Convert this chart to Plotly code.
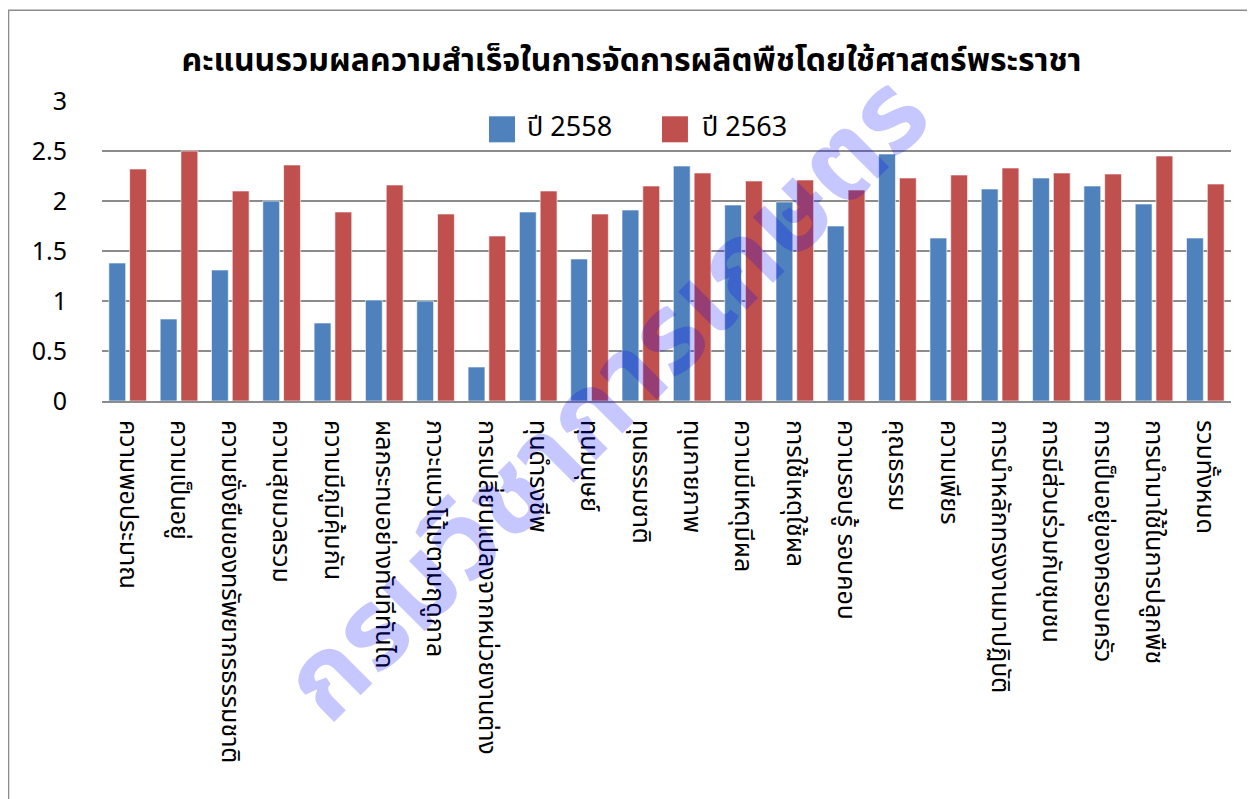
import plotly.graph_objects as go

categories = [
    "ความพอประมาณ",
    "ความเป็นอยู่",
    "ความยั่งยืนของทรัพยากรธรรมชาติ",
    "ความสุขมวลรวม",
    "ความมีภูมิคุ้มกัน",
    "ผลกระทบอย่างทันทีทันได",
    "ภาวะแนวโน้มตามฤดูกาล",
    "การเปลี่ยนแปลงจากหน่วยงานต่าง",
    "ทุนดำรงชีพ",
    "ทุนมนุษย์",
    "ทุนธรรมชาติ",
    "ทุนกายภาพ",
    "ความมีเหตุมีผล",
    "การใช้เหตุใช้ผล",
    "ความรอบรู้ รอบคอบ",
    "คุณธรรม",
    "ความเพียร",
    "การนำหลักทรงงานมาปฏิบัติ",
    "การมีส่วนร่วมกับชุมชน",
    "การเป็นอยู่ของครอบครัว",
    "การนำมาใช้ในการปลูกพืช",
    "รวมทั้งหมด",
]

values_2558 = [1.38, 0.82, 1.31, 2.00, 0.78, 1.01, 1.00, 0.34, 1.89, 1.42, 1.91,
               2.35, 1.96, 1.99, 1.75, 2.47, 1.63, 2.12, 2.23, 2.15, 1.97, 1.63]
values_2563 = [2.32, 2.50, 2.10, 2.36, 1.89, 2.16, 1.87, 1.65, 2.10, 1.87, 2.15,
               2.28, 2.20, 2.21, 2.11, 2.23, 2.26, 2.33, 2.28, 2.27, 2.45, 2.17]

series_names = ["ปี 2558", "ปี 2563"]
series_colors = ["#4F81BD", "#C0504D"]
y_ticks = [0, 0.5, 1, 1.5, 2, 2.5, 3]
y_tick_text = ["0", "0.5", "1", "1.5", "2", "2.5", "3"]

title_text = "คะแนนรวมผลความสำเร็จในการจัดการผลิตพืชโดยใช้ศาสตร์พระราชา"
watermark_text = "กรมวิชาการเกษตร"

THAI = "Noto Sans Thai, Noto Sans Thai Looped, Tahoma, DejaVu Sans, sans-serif"

fig = go.Figure()
for name, vals, col in zip(series_names, [values_2558, values_2563], series_colors):
    fig.add_trace(go.Bar(
        x=categories, y=vals, name=name, showlegend=False,
        marker=dict(color=col, line=dict(color="rgba(255,255,255,0.6)", width=1)),
    ))

fig.update_layout(
    width=1247, height=791,
    margin=dict(l=94, r=24, t=93, b=398, autoexpand=False),
    paper_bgcolor="white", plot_bgcolor="white",
    barmode="group", bargap=0.19, bargroupgap=0.19,
    title=dict(text="<b>" + title_text + "</b>", x=0.5, xanchor="center",
               y=1 - 52 / 791, yanchor="middle",
               font=dict(family=THAI, size=32, color="#000000")),
    showlegend=False,
    font=dict(family=THAI, color="#000000"),
)

fig.update_xaxes(
    tickangle=90, tickfont=dict(family=THAI, size=25, color="#000000"),
    showline=True, linecolor="#8C8C8C", linewidth=2,
    ticks="", showgrid=False, ticklabelstandoff=12,
)
fig.update_yaxes(
    range=[0, 3], tickvals=y_ticks, ticktext=y_tick_text,
    tickfont=dict(family=THAI, size=25, color="#000000"),
    showgrid=True, gridcolor="#8C8C8C", gridwidth=2,
    zeroline=False, showline=False, ticks="", ticklabelstandoff=34,
)

# legend drawn as squares + labels
legend_pos = [(0.3428, 0.3658, 0.3747), (0.4960, 0.5190, 0.5297)]
for (sx0, sx1, tx), name, col in zip(legend_pos, series_names, series_colors):
    fig.add_shape(type="rect", xref="paper", yref="paper",
                  x0=sx0, x1=sx1, y0=0.8623, y1=0.949,
                  line=dict(width=0), fillcolor=col)
    fig.add_annotation(text=name, xref="paper", yref="paper", x=tx, y=0.912,
                       xanchor="left", yanchor="middle", showarrow=False,
                       font=dict(family=THAI, size=27, color="#000000"))

# chart border
fig.add_shape(type="rect", xref="paper", yref="paper",
              x0=-0.0828, x1=1.0195, y0=-1.4, y1=1.3023,
              line=dict(color="#8C8C8C", width=1.5), fillcolor="rgba(0,0,0,0)", layer="below")

# watermark
fig.add_annotation(text="<b>" + watermark_text + "</b>", xref="paper", yref="paper",
                   x=0.448, y=0.005, xanchor="center", yanchor="middle",
                   textangle=-45, showarrow=False,
                   font=dict(family=THAI, size=111, color="rgba(0,0,255,0.22)"))

fig.write_html("out.html")
